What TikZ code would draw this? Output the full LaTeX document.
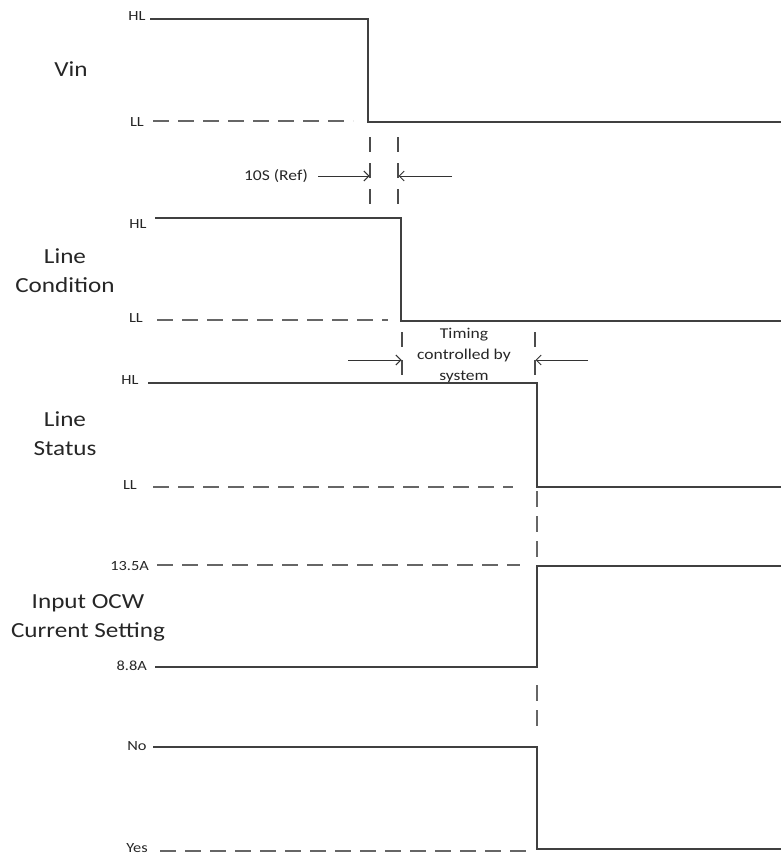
\documentclass[tikz,border=0pt]{standalone}
\usepackage{fontspec}
\setmainfont{Carlito}[FakeStretch=1.17]
\usetikzlibrary{arrows.meta}
\begin{document}
\begin{tikzpicture}[x=1pt,y=-1pt,
  wave/.style={draw=black!75, line width=1.3pt},
  refline/.style={draw=black!60, line width=1.4pt, dash pattern=on 16pt off 9pt},
  vmarker/.style={draw=black!70, line width=1.2pt, dash pattern=on 15pt off 11pt},
  big/.style={font=\fontsize{21.5}{29}\selectfont, text=black!85, align=center, inner sep=0pt},
  small/.style={font=\fontsize{14}{16}\selectfont, text=black!85, inner sep=0pt},
  note/.style={font=\fontsize{15}{21}\selectfont, text=black!85, align=center, inner sep=0pt},
  dimarrow/.style={draw=black!80, line width=1pt, -{Straight Barb[length=5pt,width=10pt]}}]
\useasboundingbox (0,0) rectangle (781,856);

% ---------- Vin ----------
\node[big] (vin) at (71,69) {Vin};
\node[small] (vinHL) at (137,16) {HL};
\node[small] (vinLL) at (137,122) {LL};
\coordinate (v1) at (150,19);
\coordinate (v2) at (368,19);
\coordinate (v3) at (368,122);
\coordinate (v4) at (781,122);
\draw[wave] (v1) -- (v2) -- (v3) -- (v4);
\coordinate (vl1) at (153,121);
\coordinate (vl2) at (353,121);
\draw[refline] (vl1) -- (vl2);

% ---------- 10S marker ----------
\coordinate (m1a) at (370,137);
\coordinate (m1b) at (370,204);
\coordinate (m2a) at (398,137);
\coordinate (m2b) at (398,204);
\draw[vmarker] (m1a) -- (m1b);
\draw[vmarker] (m2a) -- (m2b);
\node[note] (tens) at (276,176) {10S (Ref)};
\coordinate (a1s) at (318,176);
\coordinate (a1e) at (369.5,176);
\coordinate (a2s) at (452,176);
\coordinate (a2e) at (398.5,176);
\draw[dimarrow] (a1s) -- (a1e);
\draw[dimarrow] (a2s) -- (a2e);

% ---------- Line Condition ----------
\node[big] (lc) at (65,271) {Line\\Condition};
\node[small] (lcHL) at (138,224) {HL};
\node[small] (lcLL) at (136,318) {LL};
\coordinate (c1) at (155,218);
\coordinate (c2) at (401,218);
\coordinate (c3) at (401,321);
\coordinate (c4) at (781,321);
\draw[wave] (c1) -- (c2) -- (c3) -- (c4);
\coordinate (cl1) at (157,320);
\coordinate (cl2) at (388,320);
\draw[refline] (cl1) -- (cl2);

% ---------- Timing marker ----------
\coordinate (t1a) at (402,332);
\coordinate (t1b) at (402,375);
\coordinate (t2a) at (535,332);
\coordinate (t2b) at (535,375);
\draw[vmarker, dash pattern=on 15pt off 13pt] (t1a) -- (t1b);
\draw[vmarker, dash pattern=on 15pt off 13pt] (t2a) -- (t2b);
\node[note] (timing) at (464,356) {Timing\\controlled by\\system};
\coordinate (b1s) at (348,360);
\coordinate (b1e) at (401.5,360);
\coordinate (b2s) at (588,360);
\coordinate (b2e) at (535.5,360);
\draw[dimarrow] (b1s) -- (b1e);
\draw[dimarrow] (b2s) -- (b2e);

% ---------- Line Status ----------
\node[big] (ls) at (65,434) {Line\\Status};
\node[small] (lsHL) at (130,380) {HL};
\node[small] (lsLL) at (130,485) {LL};
\coordinate (s1) at (148,383);
\coordinate (s2) at (537,383);
\coordinate (s3) at (537,487);
\coordinate (s4) at (781,487);
\draw[wave] (s1) -- (s2) -- (s3) -- (s4);
\coordinate (sl1) at (153,487);
\coordinate (sl2) at (513,487);
\draw[refline] (sl1) -- (sl2);
\coordinate (sv1) at (537,491);
\coordinate (sv2) at (537,558);
\draw[refline] (sv1) -- (sv2);

% ---------- Input OCW ----------
\node[big] (ocw) at (88,618) {Input OCW\\Current Setting};
\node[small, anchor=east] (ocwHi) at (149,566) {13.5A};
\node[small, anchor=east] (ocwLo) at (147,666) {8.8A};
\coordinate (o1) at (155,667);
\coordinate (o2) at (537,667);
\coordinate (o3) at (537,566);
\coordinate (o4) at (781,566);
\draw[wave] (o1) -- (o2) -- (o3) -- (o4);
\coordinate (ol1) at (157,565);
\coordinate (ol2) at (520,565);
\draw[refline] (ol1) -- (ol2);
\coordinate (ov1) at (537,685);
\coordinate (ov2) at (537,729);
\draw[refline] (ov1) -- (ov2);

% ---------- No / Yes ----------
\node[small] (no) at (137,746) {No};
\node[small, anchor=base] (yes) at (137,852) {Yes};
\coordinate (n1) at (153,747);
\coordinate (n2) at (537,747);
\coordinate (n3) at (537,849);
\coordinate (n4) at (781,849);
\draw[wave] (n1) -- (n2) -- (n3) -- (n4);
\coordinate (yl1) at (160,851);
\coordinate (yl2) at (533,851);
\draw[refline] (yl1) -- (yl2);
\end{tikzpicture}
\end{document}
